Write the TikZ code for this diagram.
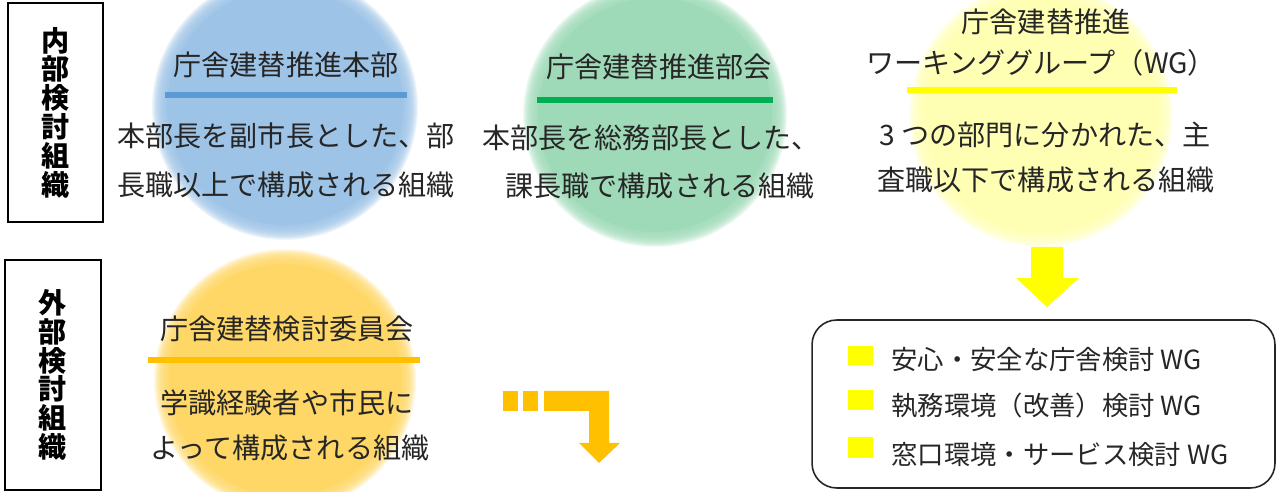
\documentclass[tikz,border=0pt]{standalone}
\usepackage{fontspec}
\setmainfont{Noto Sans CJK JP}
\usetikzlibrary{positioning}

\definecolor{blobblue}{HTML}{9DC3E6}
\definecolor{lineblue}{HTML}{5B9BD5}
\definecolor{blobgreen}{HTML}{9FDAB8}
\definecolor{linegreen}{HTML}{00B050}
\definecolor{blobyellow}{HTML}{FFFFB4}
\definecolor{lineyellow}{HTML}{FFFF00}
\definecolor{bloborange}{HTML}{FFD766}
\definecolor{lineorange}{HTML}{FFC000}
\definecolor{txtgray}{HTML}{262626}

% soft-edged disc: colour, x, y, radius
\newcommand{\fuzzydisc}[4]{%
  \fill[#1] (#2,#3) circle[radius=#4-8];
  \foreach \d in {-7,-6,...,7}
    \fill[#1,opacity=0.16] (#2,#3) circle[radius=#4+\d];
}

\begin{document}
\begin{tikzpicture}[x=0.02cm,y=-0.02cm,
    txt/.style={font=\fontsize{16}{19}\selectfont,text=txtgray,inner sep=0pt},
    leg/.style={font=\fontsize{15}{18}\selectfont,text=txtgray,inner sep=0pt,anchor=west},
    side/.style={draw,line width=1.1pt,font=\fontsize{16}{16.4}\selectfont\bfseries,
      align=center,inner sep=0pt},
    bar/.style={line width=3.5pt}]
    \useasboundingbox (0,0) rectangle (1277,492);

    % discs
    \fuzzydisc{blobblue}{285}{107}{126}
    \fuzzydisc{blobgreen}{655}{115}{125}
    \fuzzydisc{blobyellow}{1041}{115}{125}
    \fuzzydisc{bloborange}{285}{380}{124}

    % side labels
    \node[side,minimum width=1.9cm,minimum height=4.38cm] (naibu) at (55.5,112.5)
      {内\\部\\検\\討\\組\\織};
    \node[side,minimum width=1.92cm,minimum height=4.6cm] (gaibu) at (53,375)
      {外\\部\\検\\討\\組\\織};

    % honbu
    \node[txt] (honbu) at (286,65) {庁舎建替推進本部};
    \draw[bar,lineblue] (165,95) -- (407,95);
    \node[txt] (honbu1) at (286,136) {本部長を副市長とした、部};
    \node[txt] (honbu2) at (286,185) {長職以上で構成される組織};

    % bukai
    \node[txt] (bukai) at (659,67) {庁舎建替推進部会};
    \draw[bar,linegreen] (537,100) -- (773,100);
    \node[txt] (bukai1) at (651,138) {本部長を総務部長とした、};
    \node[txt] (bukai2) at (660,186) {課長職で構成される組織};

    % wg
    \node[txt] (wg) at (1046,22) {庁舎建替推進};
    \node[txt] (wgname) at (1041,63) {ワーキンググループ（WG）};
    \draw[bar,lineyellow] (907,90) -- (1177,90);
    \node[txt] (wg1) at (1045,135) {3 つの部門に分かれた、主};
    \node[txt] (wg2) at (1046,180) {査職以下で構成される組織};

    % iinkai
    \node[txt] (iinkai) at (287,329) {庁舎建替検討委員会};
    \draw[bar,lineorange] (148,360) -- (420,360);
    \node[txt] (iinkai1) at (287,403) {学識経験者や市民に};
    \node[txt] (iinkai2) at (290,448) {よって構成される組織};

    % arrows
    \fill[lineyellow] (1031,247) -- (1063,247) -- (1063,278) -- (1079,278)
      -- (1047,307) -- (1016,278) -- (1031,278) -- cycle;
    \fill[lineorange] (503,391) rectangle (518,411);
    \fill[lineorange] (523,391) rectangle (538,411);
    \fill[lineorange] (544,391) -- (609,391) -- (609,443) -- (620,443)
      -- (599,463) -- (579,443) -- (589,443) -- (589,411) -- (544,411) -- cycle;

    % list of groups
    \node[draw=black!85,line width=0.9pt,rounded corners=14pt,
      minimum width=9.26cm,minimum height=3.36cm] (wglist) at (1043.5,404) {};
    \fill[lineyellow] (848,346) rectangle (873,365);
    \fill[lineyellow] (848,390) rectangle (873,410);
    \fill[lineyellow] (848,437) rectangle (873,458);
    \node[leg] (wga) at (891,360) {安心・安全な庁舎検討 WG};
    \node[leg] (wgb) at (891,406) {執務環境（改善）検討 WG};
    \node[leg] (wgc) at (891,455) {窓口環境・サービス検討 WG};
\end{tikzpicture}
\end{document}
